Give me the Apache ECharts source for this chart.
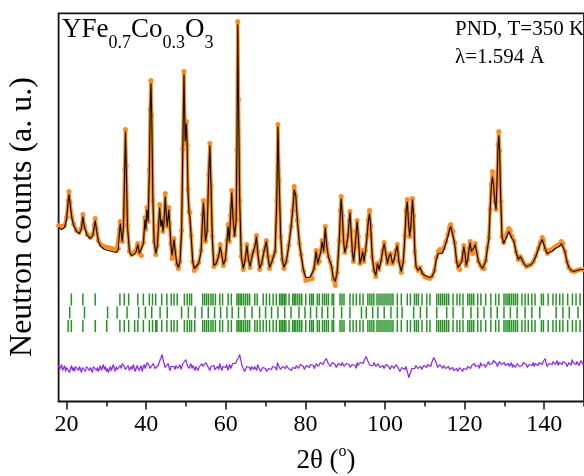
<!DOCTYPE html>
<html><head><meta charset="utf-8">
<script src="https://cdn.jsdelivr.net/npm/echarts@6/dist/echarts.min.js"></script>
<style>html,body{margin:0;padding:0;background:#fff}#c{width:584px;height:476px}</style>
</head><body><div id="c"></div>
<script>
// 2θ positions of the read profile points
const twoTheta = [18.0,18.8,19.5,20.0,20.4,20.6,20.9,21.3,21.8,22.5,23.2,23.7,24.1,24.5,25.2,26.0,26.6,27.0,27.2,27.5,28.0,28.6,29.5,30.5,31.5,32.5,33.0,33.3,33.5,33.7,34.0,34.3,34.6,34.8,35.0,35.3,35.8,36.3,37.0,37.5,37.9,38.3,38.8,39.3,39.7,39.9,40.2,40.5,40.8,41.0,41.2,41.4,41.7,42.0,42.4,42.8,43.1,43.4,43.7,44.0,44.2,44.5,44.8,45.0,45.3,45.7,45.9,46.2,46.5,46.8,47.0,47.3,47.7,48.1,48.5,48.9,49.2,49.5,49.8,50.1,50.3,50.5,50.8,51.0,51.3,51.7,52.1,52.6,53.2,53.8,54.2,54.4,54.6,54.9,55.3,55.7,56.0,56.3,56.6,57.0,57.6,58.2,58.6,58.9,59.4,59.9,60.3,60.6,60.9,61.2,61.5,61.8,62.2,62.6,62.8,63.0,63.2,63.5,63.9,64.4,64.9,65.3,65.7,66.1,66.6,66.9,67.4,67.7,68.0,68.5,69.0,69.6,70.2,70.6,71.0,71.6,71.9,72.4,72.8,73.1,73.4,73.8,74.2,74.6,75.2,75.8,76.4,76.8,77.2,77.6,78.0,78.5,78.9,79.5,80.1,80.7,81.3,81.7,82.2,82.7,83.1,83.5,83.9,84.2,84.6,85.0,85.3,85.8,86.2,86.6,87.0,87.5,88.0,88.5,88.8,89.0,89.3,89.6,89.9,90.3,90.7,91.0,91.2,91.5,91.8,92.1,92.5,92.8,93.0,93.3,93.7,94.0,94.4,94.7,95.1,95.5,95.8,96.1,96.4,96.8,97.2,97.7,98.1,98.5,99.0,99.4,99.8,100.2,100.6,101.0,101.4,101.9,102.3,102.7,103.1,103.5,104.1,104.6,105.0,105.3,105.6,105.9,106.2,106.5,106.9,107.2,107.5,107.8,108.3,108.8,109.4,110.0,110.5,111.2,111.8,112.4,112.9,113.4,113.8,114.3,114.8,115.3,115.8,116.2,116.5,116.8,117.1,117.5,118.0,118.4,118.8,119.3,119.8,120.1,120.4,120.8,121.1,121.4,121.7,122.0,122.4,122.7,123.0,123.5,124.0,124.5,124.9,125.3,125.7,126.1,126.4,126.7,127.0,127.3,127.6,127.9,128.1,128.4,128.6,128.8,129.1,129.4,129.8,130.3,130.7,131.1,131.5,131.9,132.4,132.9,133.5,134.0,134.4,134.9,135.5,136.1,136.7,137.3,137.9,138.5,139.0,139.5,139.8,140.3,140.8,141.3,141.9,142.5,143.2,143.8,144.3,144.7,145.2,145.7,146.2,146.8,147.5,148.2,149.0,150.0];
// calculated (Rietveld fit) intensity, arbitrary units
const yCalc = [174,172,174,182,200,207,198,184,176,170,168,172,185,174,166,163,166,176,181,172,160,155,152,151,150,149,152,170,178,170,160,175,230,270,235,175,150,146,147,150,157,148,146,158,182,172,192,180,230,290,318,285,200,160,148,155,175,194,175,182,170,180,205,190,175,192,178,158,146,155,162,150,138,134,140,170,250,327,260,278,255,210,188,185,165,140,133,134,138,150,185,199,185,160,170,225,256,215,165,136,138,145,155,148,137,142,160,175,160,185,209,185,165,180,250,377,300,200,145,133,142,156,142,135,145,150,156,165,150,133,138,150,160,145,134,140,144,150,200,275,220,165,142,134,140,155,174,190,212,205,180,158,147,132,124,124,125,124,133,150,138,140,150,160,150,174,158,144,140,135,124,120,130,160,190,203,185,160,149,155,165,180,189,170,150,140,155,170,180,165,138,142,150,140,150,165,180,188,175,145,132,126,138,132,140,150,158,148,138,145,148,138,142,150,156,140,130,140,165,190,200,180,165,175,202,185,150,135,131,134,128,126,125,124,125,130,142,148,150,148,152,158,165,172,175,170,168,158,140,134,133,140,155,148,136,142,152,159,150,148,154,157,150,140,136,133,133,140,152,162,190,215,225,215,200,192,215,255,266,250,200,165,158,162,166,170,168,163,160,150,142,145,142,138,135,136,137,140,145,152,158,162,160,152,148,150,150,152,154,155,158,157,150,140,134,131,130,131,132,132];
// observed intensity
const yObs = [176,175,176,184,201,210,199,185,177,171,169,173,187,175,167,164,167,177,183,173,161,157,155,154,153,151,153,172,180,170,160,176,232,272,236,176,150,147,149,151,158,148,146,159,184,172,194,180,232,292,321,286,201,160,147,156,176,197,176,183,170,181,208,191,175,194,178,158,143,155,163,150,137,133,140,171,252,330,258,280,256,212,190,189,166,140,131,134,139,151,187,201,186,160,171,227,258,216,165,135,138,146,157,148,136,142,161,177,160,186,211,186,166,182,252,380,302,201,145,132,142,157,142,134,146,150,157,166,150,132,138,151,161,145,133,140,145,150,201,277,221,165,142,133,140,156,175,191,215,206,181,158,147,131,121,122,123,123,133,151,138,140,151,161,150,175,158,145,140,134,122,116,129,161,191,205,186,160,149,155,166,181,190,170,150,140,155,171,181,165,138,142,151,140,151,166,182,191,176,145,131,125,138,132,141,151,159,148,138,146,148,138,142,151,157,140,129,140,166,191,202,181,165,176,203,186,150,135,131,134,128,125,124,123,125,131,144,150,152,150,154,160,167,174,177,172,170,159,140,134,132,141,156,148,136,142,153,160,150,148,155,158,150,140,136,133,133,141,154,164,192,217,230,216,200,192,216,257,270,251,200,165,159,165,169,173,171,165,161,150,142,145,142,138,135,136,137,140,146,153,159,164,161,152,148,151,152,154,156,157,160,158,150,140,134,131,130,131,132,132];
// difference curve (obs - calc, offset), sampled from 18° in 0.25° steps
const diffStart = 18, diffStep = 0.25;
const yDiff = [
36,32,34,37,31,33,36,30,34,32,35,29,33,36,31,34,30,35,33,37,
31,35,33,29,34,36,32,30,35,33,37,31,34,32,29,35,33,36,31,34,
30,33,36,31,34,37,32,35,30,33,29,32,35,31,34,37,33,30,35,32,
34,31,36,33,38,40,35,32,30,34,36,31,33,35,32,37,34,30,33,36,
35,31,33,36,30,34,37,33,35,39,41,36,33,31,35,38,36,33,32,35,
36,39,41,44,47,42,38,34,33,36,38,34,31,35,34,37,35,32,36,38,
33,35,37,32,34,38,36,40,42,37,36,33,35,38,33,36,34,31,35,33,
31,34,36,32,38,35,33,36,39,41,35,33,31,35,33,37,36,32,34,31,
35,32,38,34,31,35,36,33,34,37,31,34,37,33,35,38,40,36,38,41,
42,44,47,42,37,34,33,30,31,35,36,33,34,31,35,37,32,35,34,31,
37,34,33,30,30,34,35,32,33,30,29,33,34,31,32,35,36,33,34,31,
39,36,35,32,32,35,36,33,33,36,37,33,34,31,31,34,35,32,33,36,
36,33,34,37,38,35,35,32,33,36,37,34,34,37,39,35,36,33,35,38,
38,35,36,39,40,37,37,40,39,43,42,38,38,35,36,39,40,37,37,34,
35,38,39,36,36,39,38,35,35,38,40,36,37,34,34,37,38,35,36,33,
39,36,36,39,41,38,38,41,40,45,44,40,39,36,37,34,36,39,38,35,
35,38,37,34,33,36,36,33,34,37,38,35,35,32,33,36,36,33,34,37,
37,34,33,30,31,34,35,32,32,35,36,28,24,27,30,33,34,31,33,36,
36,33,32,35,35,32,33,36,37,34,34,37,38,35,35,39,41,44,44,40,
37,34,34,37,38,35,33,36,36,33,32,35,35,32,31,34,34,31,30,33,
33,30,31,34,35,32,30,33,34,31,32,35,36,33,33,36,37,34,38,35,
34,37,36,33,39,36,35,38,37,34,33,36,40,37,36,39,38,41,42,39,
38,35,37,40,40,37,36,39,39,36,35,38,38,35,36,39,34,37,37,34,
35,38,38,35,33,36,36,39,40,37,37,34,34,37,38,35,36,39,35,38,
39,36,36,39,41,38,37,40,40,43,38,35,35,38,39,36,37,40,40,37,
38,41,36,39,40,37,37,40,41,38,38,35,36,39,39,36,42,39,38,41,
37,40,39,36,38,41,40,37,38];
// Bragg reflection positions (2θ) for the three rows of tick marks
const phase1Ticks = [21.2,24.1,27.2,33.4,34.5,35.6,37.9,39.3,40.8,41.6,42.4,43.9,45.2,46.3,47.0,47.8,49.6,50.3,50.9,51.4,54.2,54.7,55.2,55.7,56.3,56.8,57.4,58.5,59.2,60.6,61.4,62.8,63.2,63.6,64.0,64.5,65.0,65.5,66.0,67.3,67.9,69.4,70.2,71.0,71.9,72.7,73.5,73.9,74.3,74.7,75.1,75.9,76.8,77.2,77.6,78.1,78.6,79.1,80.1,81.1,81.6,82.0,83.0,83.5,84.3,84.8,85.3,85.8,86.7,87.1,88.7,89.2,89.7,91.2,92.0,92.8,93.7,94.5,95.7,96.2,96.7,97.2,98.0,98.5,99.0,99.5,100.0,100.5,101.0,101.5,102.0,103.1,104.1,105.6,106.4,107.4,107.9,108.4,109.3,110.5,111.3,113.0,113.5,114.0,114.5,115.0,115.5,116.0,117.1,118.1,118.8,119.6,120.8,121.3,121.8,122.3,123.3,124.1,125.3,126.6,127.8,128.6,129.9,130.4,130.9,131.3,131.8,132.3,132.8,133.3,134.4,135.2,136.0,136.9,137.7,139.3,139.8,141.0,142.2,143.0,143.9,144.7,145.9,147.1,148.0,149.0];
const phase2Ticks = [20.8,24.5,30.3,32.7,35.2,38.1,39.8,41.4,43.5,45.3,48.9,50.6,52.3,54.0,55.6,57.2,58.7,60.3,61.6,63.2,64.8,66.6,68.5,70.0,71.5,73.1,74.8,76.4,78.4,79.9,81.3,82.8,84.2,85.6,87.1,89.1,91.2,94.1,95.3,96.9,98.2,99.8,101.5,103.1,104.3,107.2,108.9,110.5,113.0,115.5,117.1,119.6,121.6,123.3,124.9,126.6,128.2,129.9,131.5,133.2,135.2,136.9,138.9,143.0,144.7,146.3,148.5];
const phase3Ticks = [20.4,21.2,24.1,27.2,30.1,33.4,34.5,35.6,37.1,37.9,39.3,40.8,41.6,42.4,42.7,43.9,45.2,46.3,47.0,47.8,49.6,50.3,50.9,51.4,52.2,54.2,54.7,55.2,55.7,56.3,56.8,57.4,58.5,59.2,60.6,61.4,62.8,63.2,63.6,64.0,64.5,65.0,65.5,66.0,67.3,67.9,68.6,69.4,70.2,71.0,71.9,72.7,73.5,73.9,74.3,74.7,75.1,75.9,76.8,77.2,77.6,78.1,78.6,79.1,80.1,81.1,81.6,82.0,83.0,83.5,84.3,84.8,85.3,85.8,86.7,87.1,88.7,89.2,89.7,91.2,92.0,92.8,93.7,94.5,95.7,96.2,96.7,97.2,98.0,98.5,99.0,99.5,100.0,100.5,101.0,101.5,102.0,103.1,104.1,105.6,106.4,107.4,107.9,108.4,109.3,110.5,111.3,113.0,113.5,114.0,114.5,115.0,115.5,116.0,117.1,118.1,118.8,119.6,120.8,121.3,121.8,122.3,123.3,124.1,125.3,126.6,127.8,128.6,129.9,130.4,130.9,131.3,131.8,132.3,132.8,133.3,134.4,135.2,136.0,136.9,137.7,139.3,139.8,141.0,142.2,143.0,143.9,144.7,145.9,147.1,148.0,149.0];
const tickRowLevels = [102, 89, 75.5];
const xMajorTicks = [20,40,60,80,100,120,140];
const xMinorTicks = [30,50,70,90,110,130,150];

const SERIF = '"Liberation Serif", "Times New Roman", serif';
const chart = echarts.init(document.getElementById('c'), null, {renderer: 'canvas'});
const gridBox = {left: 58.6, right: -9.2, top: 13.3, bottom: 74.5};
const zip = (xs, ys) => xs.map((x, i) => [x, ys[i]]);
const tickData = (arr, lvl) => arr.map(x => [x, lvl]);
const tickSeries = (arr, lvl) => ({
  type: 'scatter', data: tickData(arr, lvl), symbol: 'rect', symbolSize: [1.5, 12],
  itemStyle: {color: '#0f870f', opacity: 0.9}, silent: true, z: 2
});

chart.setOption({
  animation: false,
  backgroundColor: '#fff',
  grid: [
    Object.assign({show: true, borderColor: '#111', borderWidth: 1.8, backgroundColor: 'transparent'}, gridBox),
    Object.assign({}, gridBox)
  ],
  xAxis: [{
    type: 'value', gridIndex: 0, min: 18, max: 150, position: 'bottom',
    axisLine: {show: false}, splitLine: {show: false},
    axisTick: {show: true, inside: false, length: 8, customValues: xMajorTicks, lineStyle: {color: '#111', width: 1.5}},
    axisLabel: {show: true, customValues: xMajorTicks, margin: 11, color: '#000', fontFamily: SERIF, fontSize: 24}
  }, {
    type: 'value', gridIndex: 1, min: 18, max: 150, position: 'bottom',
    axisLine: {show: false}, splitLine: {show: false},
    axisTick: {show: true, inside: false, length: 5, customValues: xMinorTicks, lineStyle: {color: '#111', width: 1.5}},
    axisLabel: {show: false}
  }],
  yAxis: [{
    type: 'value', gridIndex: 0, min: 0, max: 388.2,
    axisLine: {show: false}, axisTick: {show: false}, axisLabel: {show: false}, splitLine: {show: false}
  }, {
    type: 'value', gridIndex: 1, min: 0, max: 388.2, show: false
  }],
  series: [
    {
      name: 'Observed', type: 'line', xAxisIndex: 0, yAxisIndex: 0,
      data: zip(twoTheta, yObs), symbol: 'circle', symbolSize: 5, showSymbol: true, showAllSymbol: true,
      lineStyle: {color: '#ff8c1a', width: 3.5}, itemStyle: {color: '#ff8c1a'}, z: 3, silent: true
    },
    {
      name: 'Calculated', type: 'line', xAxisIndex: 0, yAxisIndex: 0,
      data: zip(twoTheta, yCalc), showSymbol: false, symbol: 'none',
      lineStyle: {color: '#111', width: 1.2}, z: 4, silent: true
    },
    tickSeries(phase1Ticks, tickRowLevels[0]),
    tickSeries(phase2Ticks, tickRowLevels[1]),
    tickSeries(phase3Ticks, tickRowLevels[2]),
    {
      name: 'Difference', type: 'line', xAxisIndex: 0, yAxisIndex: 0,
      data: yDiff.map((v, i) => [diffStart + i * diffStep, v]), showSymbol: false, symbol: 'none',
      lineStyle: {color: '#8a22ff', width: 1.2}, z: 3, silent: true
    }
  ],
  graphic: [
    {
      type: 'text', left: 62, top: 16, z: 10,
      style: {
        text: '{m|YFe}{s|0.7}{m|Co}{s|0.3}{m|O}{s|3}',
        rich: {
          m: {fontFamily: SERIF, fontSize: 27, lineHeight: 30, verticalAlign: 'top', fill: '#000'},
          s: {fontFamily: SERIF, fontSize: 18, lineHeight: 18, verticalAlign: 'top', padding: [18, 0, 0, 0], fill: '#000'}
        }
      }
    },
    {
      type: 'text', left: 455, top: 15, z: 10,
      style: {text: 'PND, T=350 K\nλ=1.594 Å', fontFamily: SERIF, fontSize: 21, lineHeight: 28, fill: '#000'}
    },
    {
      type: 'text', x: 23, y: 217, rotation: Math.PI / 2, z: 10,
      style: {text: 'Neutron counts (a. u.)', fontFamily: SERIF, fontSize: 32, fill: '#000', align: 'center', verticalAlign: 'middle'}
    },
    {
      type: 'text', x: 326, y: 459, z: 10,
      style: {
        text: '{n|2θ (}{sup|o}{n|)}', align: 'center', verticalAlign: 'middle',
        rich: {
          n: {fontFamily: SERIF, fontSize: 27, lineHeight: 30, verticalAlign: 'bottom', fill: '#000'},
          sup: {fontFamily: SERIF, fontSize: 16, lineHeight: 16, verticalAlign: 'top', padding: [0, 0, 12, 0], fill: '#000'}
        }
      }
    }
  ]
});
</script>
</body></html>
